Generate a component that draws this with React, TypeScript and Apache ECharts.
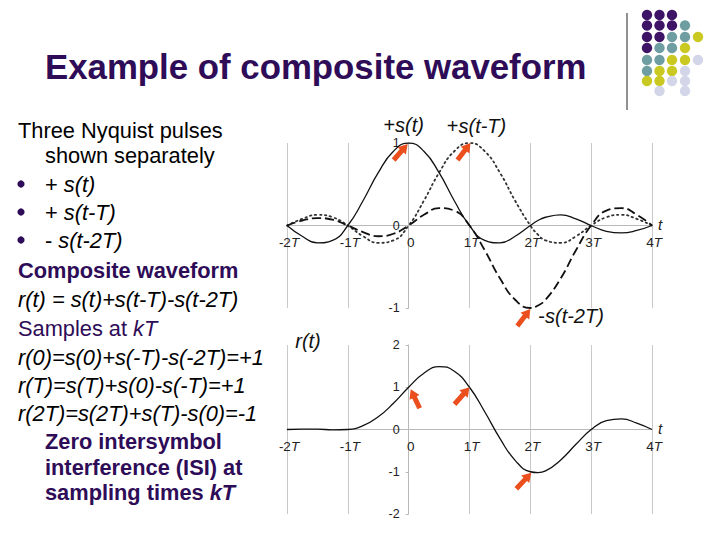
import { useEffect, useRef } from "react";
import * as echarts from "echarts";

// time in units of T
const tValues = [-2, -1.75, -1.5, -1.25, -1, -0.75, -0.5, -0.25, 0, 0.25, 0.5, 0.75, 1, 1.25, 1.5, 1.75, 2, 2.125, 2.25, 2.5, 2.75, 3, 3.25, 3.5, 3.75, 4];
// +s(t)
const sPulse = [0, -0.13, -0.21, -0.18, 0, 0.3, 0.64, 0.9, 1, 0.9, 0.64, 0.3, 0, -0.18, -0.21, -0.13, 0, 0.06, 0.1, 0.13, 0.08, 0, -0.07, -0.09, -0.06, 0];
// +s(t-T)
const sShifted1 = [0, 0.08, 0.13, 0.1, 0, -0.13, -0.21, -0.18, 0, 0.3, 0.64, 0.9, 1, 0.9, 0.64, 0.3, 0, -0.11, -0.18, -0.21, -0.13, 0, 0.1, 0.13, 0.08, 0];
// -s(t-2T)
const sShifted2Neg = [0, 0.06, 0.09, 0.07, 0, -0.08, -0.13, -0.1, 0, 0.13, 0.21, 0.18, 0, -0.3, -0.64, -0.9, -1, -0.97, -0.9, -0.64, -0.3, 0, 0.18, 0.21, 0.13, 0];
// r(t) composite
const rComposite = [0, 0.01, 0.01, -0.01, 0, 0.09, 0.3, 0.62, 1, 1.33, 1.49, 1.38, 1, 0.42, -0.21, -0.73, -1, -1.02, -0.98, -0.72, -0.35, 0, 0.21, 0.25, 0.15, 0];

const xTickValues = [-2, -1, 0, 1, 2, 3, 4];
const upperYRange = [-1, 1];
const lowerYRange = [-2, 2];

const samplePointsUpper = [[0, 1], [1, 1], [2, -1]];
const samplePointsLower = [[0, 1], [1, 1], [2, -1]];

const PURPLE = "#2E0C57";
const FONT = "'Liberation Sans', Arial, sans-serif";

const dotColors: Record<string, string> = {
  p: "#3D1466",
  t: "#6F9EA2",
  y: "#C9C921",
  l: "#D3D6E8",
};
const dotRows = ["ppp..", "pppt.", "ppttY", "pttY.", "ttYYl", "tYYl.", "YYll.", ".l.l."];

const GRID_W = 365;
const UPPER_H = 165;
const LOWER_H = 169;

function zipData(ys: number[]) {
  return tValues.map((t, i) => [t, ys[i]]);
}

export default function App() {
  const ref = useRef<HTMLDivElement>(null);
  useEffect(() => {
    if (!ref.current) return;
    const chart = echarts.init(ref.current, null, { renderer: "svg" });
    const xMin = xTickValues[0];
    const xMax = xTickValues[xTickValues.length - 1];
    const yAxisShift = -(GRID_W * (0 - xMin)) / (xMax - xMin);
    const xAxisShift = (h: number, range: number[]) => -(h * (0 - range[0])) / (range[1] - range[0]);

    const xAxisBase = (gridIndex: number, shift: number) => ({
      gridIndex,
      type: "value",
      position: "bottom",
      offset: shift,
      min: xMin,
      max: xMax,
      interval: 1,
      name: "t",
      nameLocation: "end",
      nameGap: 6,
      nameTextStyle: { fontStyle: "italic", fontSize: 15, color: "#222", fontFamily: FONT, verticalAlign: "bottom", padding: [0, 0, -6, 0] },
      axisLine: { onZero: false, lineStyle: { color: "#b9b9b9", width: 1 } },
      axisTick: { show: false },
      splitLine: { show: true, lineStyle: { color: "#c9c9c9", width: 1 } },
      axisLabel: {
        margin: 10,
        padding: [0, 0, 0, 4],
        formatter: (v: number) => (v === 0 ? "{n|0}" : `{n|${v}}{i|T}`),
        rich: {
          n: { fontSize: 13.5, color: "#222", fontFamily: FONT },
          i: { fontSize: 13.5, color: "#222", fontFamily: FONT, fontStyle: "italic" },
        },
      },
    });
    const yAxisBase = (gridIndex: number, range: number[]) => ({
      gridIndex,
      type: "value",
      position: "left",
      offset: yAxisShift,
      min: range[0],
      max: range[1],
      interval: 1,
      axisLine: { show: true, onZero: false, lineStyle: { color: "#b9b9b9", width: 1 } },
      axisTick: { show: true, length: 3, lineStyle: { color: "#b9b9b9" } },
      splitLine: { show: false },
      axisLabel: { margin: 9, fontSize: 12.5, color: "#222", fontFamily: FONT },
    });

    chart.setOption({
      animation: false,
      backgroundColor: "#ffffff",
      grid: [
        { left: 287, top: 143, width: GRID_W, height: UPPER_H, containLabel: false, outerBoundsMode: "none" },
        { left: 287, top: 345, width: GRID_W, height: LOWER_H, containLabel: false, outerBoundsMode: "none" },
      ],
      xAxis: [xAxisBase(0, xAxisShift(UPPER_H, upperYRange)), xAxisBase(1, xAxisShift(LOWER_H, lowerYRange))],
      yAxis: [yAxisBase(0, upperYRange), yAxisBase(1, lowerYRange)],
      series: [
        {
          name: "+s(t)", type: "line", xAxisIndex: 0, yAxisIndex: 0, data: zipData(sPulse),
          smooth: true, showSymbol: false, lineStyle: { color: "#111", width: 1.3 }, z: 3,
        },
        {
          name: "+s(t-T)", type: "line", xAxisIndex: 0, yAxisIndex: 0, data: zipData(sShifted1),
          smooth: true, showSymbol: false, lineStyle: { color: "#333", width: 1.8, type: [1.5, 3.5], cap: "round" }, z: 2,
        },
        {
          name: "-s(t-2T)", type: "line", xAxisIndex: 0, yAxisIndex: 0, data: zipData(sShifted2Neg),
          smooth: true, showSymbol: false, lineStyle: { color: "#111", width: 1.8, type: [9, 4] }, z: 2,
        },
        {
          name: "r(t)", type: "line", xAxisIndex: 1, yAxisIndex: 1, data: zipData(rComposite),
          smooth: true, showSymbol: false, lineStyle: { color: "#111", width: 1.3 }, z: 3,
        },
      ],
    });

    const px = (g: number, pt: number[]) => chart.convertToPixel({ xAxisIndex: g, yAxisIndex: g }, pt) as number[];

    const arrow = (tip: number[], vec: number[]) => {
      const len = Math.hypot(vec[0], vec[1]);
      const ux = -vec[0] / len;
      const uy = -vec[1] / len;
      const nx = -uy;
      const ny = ux;
      const headL = 9;
      const headW = 11;
      const tail = [tip[0] + vec[0], tip[1] + vec[1]];
      const base = [tip[0] - ux * headL, tip[1] - uy * headL];
      return [
        {
          type: "line",
          shape: { x1: tail[0], y1: tail[1], x2: base[0] + ux * 2, y2: base[1] + uy * 2 },
          style: { stroke: "#EA4F1D", lineWidth: 5 },
          z: 10,
        },
        {
          type: "polygon",
          shape: {
            points: [
              tip,
              [base[0] + (nx * headW) / 2, base[1] + (ny * headW) / 2],
              [base[0] - (nx * headW) / 2, base[1] - (ny * headW) / 2],
            ],
          },
          style: { fill: "#EA4F1D" },
          z: 10,
        },
      ];
    };

    const upperVecs = [[-14, 16], [-13, 17], [-13, 17]];
    const upperOff = [[-1, 1], [1, 0], [0, 1]];
    const lowerVecs = [[9, 19], [-15, 17], [-15, 16]];
    const lowerOff = [[2, 2], [0, 0], [1, 1]];

    const graphics: any[] = [];
    samplePointsUpper.forEach((p, i) => {
      const q = px(0, p);
      graphics.push(...arrow([q[0] + upperOff[i][0], q[1] + upperOff[i][1]], upperVecs[i]));
    });
    samplePointsLower.forEach((p, i) => {
      const q = px(1, p);
      graphics.push(...arrow([q[0] + lowerOff[i][0], q[1] + lowerOff[i][1]], lowerVecs[i]));
    });

    const annRich = {
      n: { fontSize: 20, fill: "#111", fontFamily: FONT },
      i: { fontSize: 20, fill: "#111", fontFamily: FONT, fontStyle: "italic" },
    };
    const a0 = px(0, [0, 1]);
    const a1 = px(0, [1, 1]);
    const a2 = px(0, [2, -1]);
    const aR = px(1, [-2, 2]);
    graphics.push(
      { type: "text", x: a0[0] - 5, y: a0[1] - 18, style: { text: "{n|+}{i|s(t)}", rich: annRich, align: "center", verticalAlign: "middle" } },
      { type: "text", x: a1[0] + 7, y: a1[1] - 17, style: { text: "{n|+}{i|s(t-T)}", rich: annRich, align: "center", verticalAlign: "middle" } },
      { type: "text", x: a2[0] + 8, y: a2[1] + 8, style: { text: "{n|-}{i|s(t-2T)}", rich: annRich, align: "left", verticalAlign: "middle" } },
      { type: "text", x: aR[0] + 21, y: aR[1] - 4, style: { text: "{i|r(t)}", rich: annRich, align: "center", verticalAlign: "middle" } },
    );

    // title
    graphics.push({
      type: "text", x: 45, y: 66,
      style: { text: "Example of composite waveform", fill: PURPLE, font: `bold 34.8px ${FONT}`, verticalAlign: "middle" },
    });

    // decoration dots and line
    graphics.push({ type: "line", shape: { x1: 627, y1: 13, x2: 627, y2: 110 }, style: { stroke: "#222", lineWidth: 1 } });
    const dotX = [647, 659.5, 672, 685, 698];
    const dotY = [15, 25.5, 37, 48, 60, 71, 81, 91];
    dotRows.forEach((row, r) => {
      row.split("").forEach((c, k) => {
        const key = c === "Y" ? "y" : c;
        if (dotColors[key]) {
          graphics.push({ type: "circle", shape: { cx: dotX[k], cy: dotY[r], r: 5.2 }, style: { fill: dotColors[key] } });
        }
      });
    });

    // left text block
    const fs = 21.8;
    const rich = {
      n: { fontSize: fs, fill: "#000", fontFamily: FONT },
      i: { fontSize: fs, fill: "#000", fontFamily: FONT, fontStyle: "italic" },
      p: { fontSize: fs, fill: PURPLE, fontFamily: FONT },
      pi: { fontSize: fs, fill: PURPLE, fontFamily: FONT, fontStyle: "italic" },
      pb: { fontSize: fs, fill: PURPLE, fontFamily: FONT, fontWeight: "bold" },
      pbi: { fontSize: fs, fill: PURPLE, fontFamily: FONT, fontWeight: "bold", fontStyle: "italic" },
    };
    const lines: [number, number, string][] = [
      [18, 130, "{n|Three Nyquist pulses}"],
      [45, 155, "{n|shown separately}"],
      [45, 184, "{n|+ }{i|s(t)}"],
      [45, 212, "{n|+ }{i|s(t-T)}"],
      [45, 240, "{n|- }{i|s(t-2T)}"],
      [18, 270, "{pb|Composite waveform}"],
      [18, 299, "{i|r(t) = s(t)+s(t-T)-s(t-2T)}"],
      [18, 328, "{p|Samples at }{pi|kT}"],
      [18, 357, "{i|r(0)=s(0)+s(-T)-s(-2T)=+1}"],
      [18, 385, "{i|r(T)=s(T)+s(0)-s(-T)=+1}"],
      [18, 413, "{i|r(2T)=s(2T)+s(T)-s(0)=-1}"],
      [45, 441, "{pb|Zero intersymbol}"],
      [45, 467, "{pb|interference (ISI) at}"],
      [45, 492, "{pb|sampling times }{pbi|kT}"],
    ];
    lines.forEach(([x, y, text]) => {
      graphics.push({ type: "text", x, y, style: { text, rich, verticalAlign: "middle" } });
    });
    [184, 212, 240].forEach((y) => {
      graphics.push({ type: "circle", shape: { cx: 21, cy: y, r: 3.6 }, style: { fill: PURPLE } });
    });

    chart.setOption({ graphic: graphics });

    return () => chart.dispose();
  }, []);

  return <div ref={ref} style={{ position: "fixed", left: 0, top: 0, width: 720, height: 540, background: "#fff" }} />;
}
